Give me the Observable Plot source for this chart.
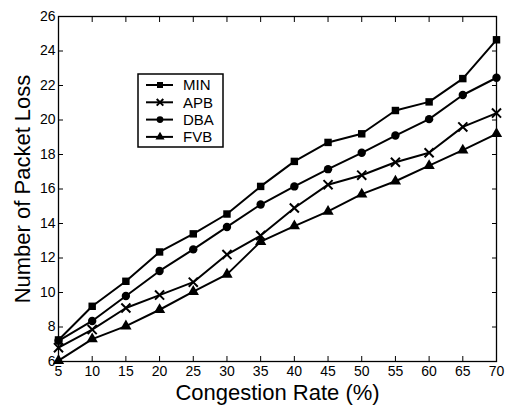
<!DOCTYPE html>
<html><head><meta charset="utf-8">
<script src="https://cdn.jsdelivr.net/npm/d3@7"></script>
<script src="https://cdn.jsdelivr.net/npm/@observablehq/plot@0.6"></script>
<style>
body{margin:0;background:#fff;font-family:"Liberation Sans",Arial,sans-serif;}
#wrap{position:relative;width:505px;height:408px;overflow:hidden;}
#legend{position:absolute;left:137px;top:73px;}
</style></head>
<body><div id="wrap"></div>
<script>
const rates = [5, 10, 15, 20, 25, 30, 35, 40, 45, 50, 55, 60, 65, 70];
const MIN = [7.25, 9.2, 10.65, 12.35, 13.4, 14.55, 16.15, 17.6, 18.7, 19.2, 20.55, 21.05, 22.4, 24.65];
const APB = [6.8, 7.85, 9.1, 9.85, 10.6, 12.2, 13.3, 14.9, 16.25, 16.8, 17.55, 18.1, 19.6, 20.4];
const DBA = [7.2, 8.35, 9.8, 11.25, 12.5, 13.8, 15.1, 16.15, 17.15, 18.1, 19.1, 20.05, 21.45, 22.45];
const FVB = [6.05, 7.3, 8.05, 9.0, 10.05, 11.05, 12.95, 13.85, 14.7, 15.7, 16.45, 17.35, 18.25, 19.2];
const seriesNames = ["MIN", "APB", "DBA", "FVB"];
const seriesSymbols = ["square", "times", "circle", "triangle"];
const xTicks = [5, 10, 15, 20, 25, 30, 35, 40, 45, 50, 55, 60, 65, 70];
const yTicks = [6, 8, 10, 12, 14, 16, 18, 20, 22, 24, 26];
const xTitle = "Congestion Rate (%)";
const yTitle = "Number of Packet Loss";

const seriesValues = [MIN, APB, DBA, FVB];
const data = seriesNames.flatMap((s, i) => rates.map((r, j) => ({series: s, rate: r, value: seriesValues[i][j]})));
const filled = data.filter(d => d.series !== "APB");
const crossed = data.filter(d => d.series === "APB");

const chart = Plot.plot({
  width: 505, height: 408,
  marginLeft: 58, marginRight: 9, marginTop: 16, marginBottom: 47,
  style: {fontFamily: "'Liberation Sans', Arial, sans-serif", fontSize: "14px", color: "#000", background: "#fff", overflow: "visible"},
  x: {domain: [5, 70]},
  y: {domain: [6, 26]},
  symbol: {domain: seriesNames, range: seriesSymbols},
  marks: [
    Plot.frame({stroke: "#000", strokeWidth: 1.3}),
    Plot.axisX({ticks: xTicks, tickSize: 0, tickPadding: 5, tickFormat: d => d, label: null, fontSize: 14}),
    Plot.axisX({anchor: "bottom", ticks: xTicks, tickSize: -5, text: null, label: null, strokeWidth: 1}),
    Plot.axisX({anchor: "top", ticks: xTicks, tickSize: -5, text: null, label: null, strokeWidth: 1}),
    Plot.axisY({ticks: yTicks, tickSize: 0, tickPadding: 3, tickFormat: d => d, label: null, fontSize: 14}),
    Plot.axisY({anchor: "left", ticks: yTicks, tickSize: -5, text: null, label: null, strokeWidth: 1}),
    Plot.axisY({anchor: "right", ticks: yTicks, tickSize: -5, text: null, label: null, strokeWidth: 1}),
    Plot.line(data, {x: "rate", y: "value", z: "series", stroke: "#000", strokeWidth: 2}),
    Plot.dot(filled, {x: "rate", y: "value", symbol: "series", fill: "#000", r: 4.2}),
    Plot.dot(crossed, {x: "rate", y: "value", symbol: "series", stroke: "#000", strokeWidth: 2, r: 4.2}),
    Plot.text([xTitle], {frameAnchor: "bottom", dy: 31, fontSize: 22, lineAnchor: "middle", textAnchor: "middle"}),
    Plot.text([yTitle], {frameAnchor: "left", dx: -36, rotate: -90, fontSize: 22, lineAnchor: "middle", textAnchor: "middle"})
  ]
});
const wrap = document.getElementById("wrap");
wrap.appendChild(chart);

// legend
const lw = 88, lh = 76;
const leg = d3.select(wrap).append("svg").attr("id", "legend").attr("width", lw).attr("height", lh);
leg.append("rect").attr("x", 1).attr("y", 1).attr("width", 85).attr("height", 73)
  .attr("fill", "#fff").attr("stroke", "#000").attr("stroke-width", 1.5);
const symMap = {square: d3.symbolSquare, times: d3.symbolTimes, circle: d3.symbolCircle, triangle: d3.symbolTriangle};
seriesNames.forEach((s, i) => {
  const y = 12 + i * 17.3;
  const g = leg.append("g").attr("transform", `translate(0,${y})`);
  g.append("line").attr("x1", 9).attr("x2", 36).attr("y1", 0).attr("y2", 0).attr("stroke", "#000").attr("stroke-width", 2);
  const sym = seriesSymbols[i];
  const p = g.append("path").attr("transform", "translate(23,0)")
    .attr("d", d3.symbol(symMap[sym], sym === "times" ? 30 : 36)());
  if (sym === "times") p.attr("fill", "none").attr("stroke", "#000").attr("stroke-width", 2);
  else p.attr("fill", "#000");
  g.append("text").attr("x", 46).attr("y", 0).attr("dy", "0.36em")
    .attr("font-size", 15).attr("font-family", "'Liberation Sans', Arial, sans-serif").text(s);
});
</script>
</body></html>
